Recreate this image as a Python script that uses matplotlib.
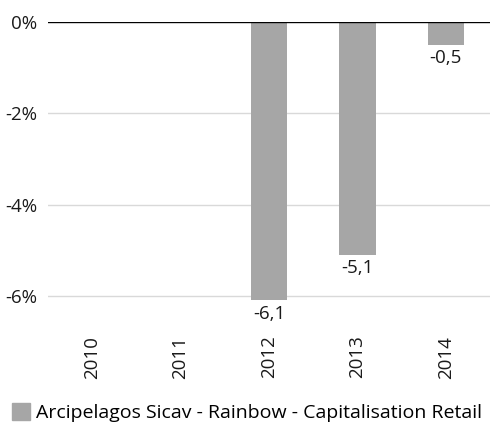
import matplotlib
matplotlib.use("Agg")
import matplotlib.pyplot as plt
from matplotlib.patches import Patch

categories = ["2010", "2011", "2012", "2013", "2014"]
values = [None, None, -6.1, -5.1, -0.5]
series_name = "Arcipelagos Sicav - Rainbow - Capitalisation Retail"
yticks = [0, -2, -4, -6]
ytick_labels = ["0%", "-2%", "-4%", "-6%"]

plt.rcParams['font.family'] = ['Open Sans', 'DejaVu Sans']
FS = 13.5
TXT = "#1a1a1a"
fig = plt.figure(figsize=(4.9, 4.23), dpi=100)
ax = fig.add_axes([0.098, 0.236, 0.902, 0.712])

color = "#a6a6a6"
x = list(range(len(categories)))
for i, v in enumerate(values):
    if v is None:
        continue
    ax.bar(i, v, width=0.41, color=color, zorder=2)
    ax.annotate(f"{v:.1f}".replace(".", ","), (i, v), xytext=(0, -3), textcoords="offset points",
                ha="center", va="top", fontsize=FS, color=TXT)

ax.set_xlim(-0.5, len(categories) - 0.5)
ax.set_ylim(-6.6, 0)
ax.set_yticks(yticks)
ax.set_yticklabels(ytick_labels, fontsize=FS, color=TXT)
for y in yticks:
    if y == 0:
        ax.axhline(y, color="black", lw=1.0, zorder=3)
    else:
        ax.axhline(y, color="#d9d9d9", lw=1.0, zorder=1)
ax.set_xticks(x)
ax.set_xticklabels(categories, rotation=90, fontsize=FS, color=TXT)
ax.tick_params(axis="y", length=0, pad=8)
ax.tick_params(axis="x", length=0, pad=9)
for s in ax.spines.values():
    s.set_visible(False)

fig.legend(handles=[Patch(color=color)], labels=[series_name], loc="lower left",
           bbox_to_anchor=(0.0, -0.025), frameon=False, fontsize=14,
           handlelength=0.95, handleheight=0.95, handletextpad=0.3, borderaxespad=0.2)

fig.savefig("out.png", dpi=100)
